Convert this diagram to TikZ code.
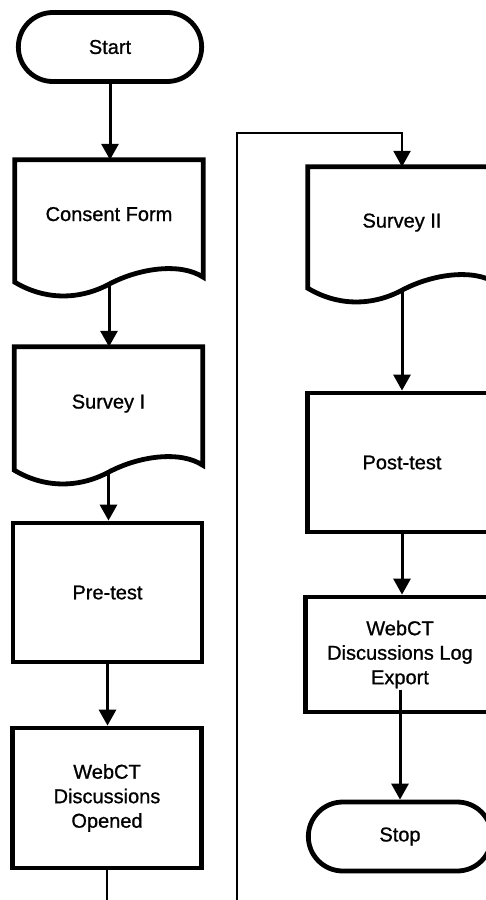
\documentclass[tikz,border=0pt]{standalone}
\usepackage{fontspec}
\setmainfont{Liberation Sans}
\newfontfamily\heavysans[FakeBold=0.9]{Liberation Sans}
\usetikzlibrary{arrows.meta,calc,shapes.misc}
\tikzset{
  txt/.style={font=\heavysans\fontsize{20}{24.5}\selectfont, align=center},
  term/.style={txt, draw, rounded rectangle, line width=4.8pt, minimum width=190pt, minimum height=69pt},
  procbox/.style={txt, draw, line width=4.8pt, minimum width=189pt},
  docbox/.style={txt, minimum width=188pt, text height=15pt, text depth=15pt},
  docline/.style={line width=4.8pt, line join=miter},
  arr/.style={line width=3pt, -{Triangle[width=17pt,length=16pt]}},
  conn/.style={line width=2.6pt, -{Triangle[width=17pt,length=16pt]}}
}
\newcommand\docoutline[1]{%
  \draw[docline] (#1.south west) -- (#1.north west) -- (#1.north east)
    -- ($(#1.south east)+(0,-5)$)
    .. controls +(-23,-15) and +(30,-16) .. ($(#1.south)+(0,2)$)
    .. controls +(-30,16) and +(30,18) .. (#1.south west) -- cycle;}
\begin{document}
\begin{tikzpicture}[x=1pt,y=-1pt]
\useasboundingbox (0,0) rectangle (486,900);
\fill[white] (0,0) rectangle (486,900);
\clip (0,0) rectangle (486,900);

% left column
\node[term] (start) at (110,47) {Start};
\node[docbox, minimum height=122pt] (cf) at (109,221) {Consent Form};
\docoutline{cf}
\node[docbox, minimum height=123pt] (s1) at (108.5,408.5) {Survey I};
\docoutline{s1}
\node[procbox, minimum height=139pt] (pre) at (107.5,592.5) {Pre-test};
\node[procbox, minimum height=140pt] (open) at (107,798) {WebCT\\Discussions\\Opened};

% right column
\node[docbox, minimum height=121pt] (s2) at (402,227.5) {Survey II};
\docoutline{s2}
\node[procbox, minimum height=139pt] (post) at (402,462.5) {Post-test};
\node[procbox, minimum height=115pt] (log) at (400,654.5) {WebCT\\Discussions Log\\Export};
\node[term] (stop) at (400,836.5) {Stop};

% connectors
\draw[arr] (start.south) -- (start.south |- cf.north);
\draw[arr] ($(cf.south)+(0,2)$) -- (cf.south |- s1.north);
\draw[arr] ($(s1.south)+(0,2)$) -- (s1.south |- pre.north);
\draw[arr] (pre.south) -- (pre.south |- open.north);
\draw[conn] (open.south) -- ++(0,80) -| (237,133) -| (s2.north);
\draw[arr] ($(s2.south)+(0,2)$) -- (s2.south |- post.north);
\draw[arr] (post.south) -- (post.south |- log.north);
\draw[arr] ($(log.south)+(0,-24)$) -- (log.south |- stop.north);
\end{tikzpicture}
\end{document}
